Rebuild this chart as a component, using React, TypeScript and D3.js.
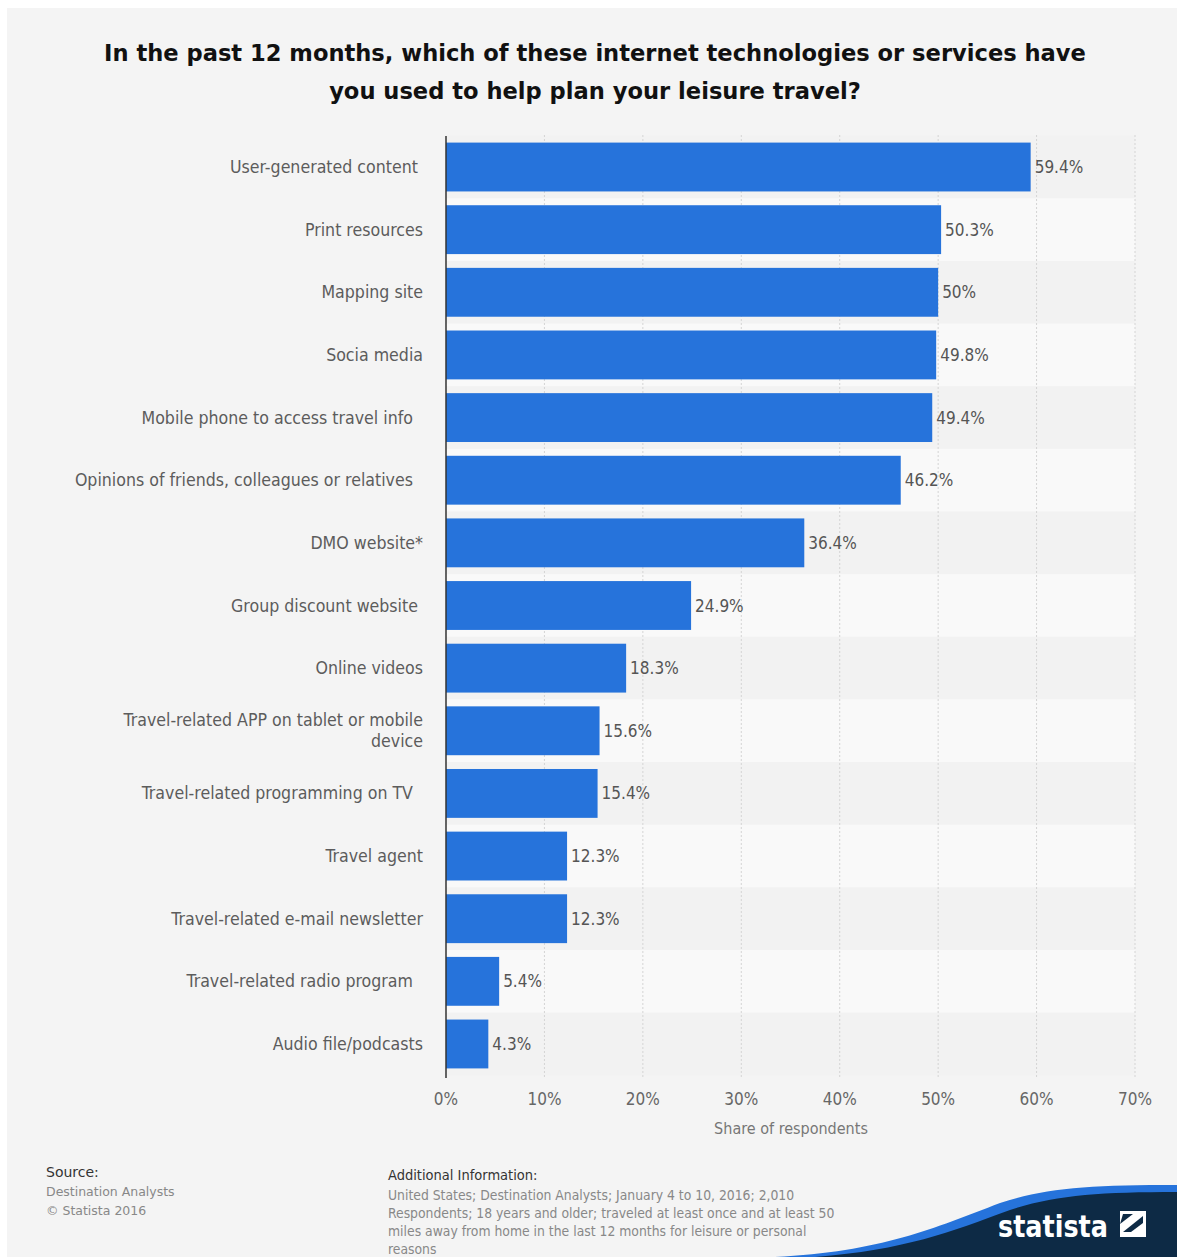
import React from "react";
import * as d3 from "d3";

const categories: string[][] = [
  ["User-generated content "],
  ["Print resources"],
  ["Mapping site"],
  ["Socia media"],
  ["Mobile phone to access travel info  "],
  ["Opinions of friends, colleagues or relatives  "],
  ["DMO website*"],
  ["Group discount website "],
  ["Online videos"],
  ["Travel-related APP on tablet or mobile", "device"],
  ["Travel-related programming on TV  "],
  ["Travel agent"],
  ["Travel-related e-mail newsletter"],
  ["Travel-related radio program  "],
  ["Audio file/podcasts"],
];
const values: number[] = [59.4, 50.3, 50, 49.8, 49.4, 46.2, 36.4, 24.9, 18.3, 15.6, 15.4, 12.3, 12.3, 5.4, 4.3];
const valueLabels: string[] = ["59.4%", "50.3%", "50%", "49.8%", "49.4%", "46.2%", "36.4%", "24.9%", "18.3%", "15.6%", "15.4%", "12.3%", "12.3%", "5.4%", "4.3%"];
const xTicks: number[] = [0, 10, 20, 30, 40, 50, 60, 70];

const titleLines = [
  "In the past 12 months, which of these internet technologies or services have",
  "you used to help plan your leisure travel?",
];
const additionalInfo = [
  "United States; Destination Analysts; January 4 to 10, 2016; 2,010",
  "Respondents; 18 years and older; traveled at least once and at least 50",
  "miles away from home in the last 12 months for leisure or personal",
  "reasons",
];

const W = 1177;
const H = 1257;
const COND = "'DejaVu Sans Condensed', 'Liberation Sans Narrow', 'DejaVu Sans', sans-serif";
const BOLD = "'DejaVu Sans', sans-serif";

export default function App() {
  const x = d3.scaleLinear().domain([0, 70]).range([446, 1135]);
  const y = d3
    .scaleBand<number>()
    .domain(d3.range(categories.length))
    .range([135.7, 1075.3])
    .paddingInner(0.22)
    .paddingOuter(0.11);
  const step = y.step();
  const rowTop = (i: number) => (y(i) as number) - (step - y.bandwidth()) / 2;

  return (
    <svg
      width={W}
      height={H}
      style={{ position: "absolute", left: 0, top: 0, display: "block" }}
    >
      <rect x={0} y={0} width={W} height={H} fill="#ffffff" />
      <rect x={7} y={8} width={W - 7} height={H - 8} fill="#f4f4f4" />

      {titleLines.map((t, i) => (
        <text
          key={i}
          x={595}
          y={61 + i * 38}
          textAnchor="middle"
          fontFamily={BOLD}
          fontWeight="bold"
          fontSize={22.6}
          fill="#111"
        >
          {t}
        </text>
      ))}

      {/* row stripes */}
      {categories.map((_, i) => (
        <rect
          key={i}
          x={x(0)}
          y={rowTop(i)}
          width={x(70) - x(0)}
          height={step}
          fill={i % 2 === 0 ? "#f2f2f2" : "#f9f9f9"}
        />
      ))}

      {/* gridlines */}
      {xTicks.slice(1).map((t) => (
        <line
          key={t}
          x1={x(t)}
          x2={x(t)}
          y1={135}
          y2={1078}
          stroke="#d4d4d4"
          strokeWidth={1}
          strokeDasharray="2,2"
        />
      ))}

      {/* bars */}
      {values.map((v, i) => (
        <rect
          key={i}
          x={x(0)}
          y={y(i) as number}
          width={x(v) - x(0)}
          height={y.bandwidth()}
          fill="#2673db"
        />
      ))}

      {/* value labels */}
      {values.map((v, i) => (
        <text
          key={i}
          x={x(v) + 4}
          y={(y(i) as number) + y.bandwidth() / 2 + 6}
          fontFamily={COND}
          fontSize={17}
          fill="#555"
        >
          {valueLabels[i]}
        </text>
      ))}

      {/* category labels */}
      {categories.map((lines, i) => {
        const cy = (y(i) as number) + y.bandwidth() / 2;
        const lh = 21;
        const start = cy - ((lines.length - 1) * lh) / 2 + 6;
        return (
          <text
            key={i}
            textAnchor="end"
            fontFamily={COND}
            fontSize={17.6}
            fill="#5c5c5c"
            style={{ whiteSpace: "pre" }}
          >
            {lines.map((l, j) => (
              <tspan key={j} x={423} y={start + j * lh}>
                {l}
              </tspan>
            ))}
          </text>
        );
      })}

      {/* axis line */}
      <line x1={x(0)} x2={x(0)} y1={136} y2={1078} stroke="#333" strokeWidth={1.5} />

      {/* x tick labels */}
      {xTicks.map((t) => (
        <text
          key={t}
          x={x(t)}
          y={1105}
          textAnchor="middle"
          fontFamily={COND}
          fontSize={17}
          fill="#666"
        >
          {t + "%"}
        </text>
      ))}
      <text
        x={791}
        y={1134}
        textAnchor="middle"
        fontFamily={COND}
        fontSize={16}
        fill="#777"
      >
        Share of respondents
      </text>

      {/* footer */}
      <text x={46} y={1177} fontFamily={BOLD} fontSize={14} fill="#333">
        Source:
      </text>
      <text x={46} y={1196} fontFamily={BOLD} fontSize={12.5} fill="#888">
        Destination Analysts
      </text>
      <text x={46} y={1215} fontFamily={BOLD} fontSize={12.5} fill="#888">
        © Statista 2016
      </text>
      <text x={388} y={1180} fontFamily={COND} fontSize={14.5} fill="#333">
        Additional Information:
      </text>
      {additionalInfo.map((l, i) => (
        <text key={i} x={388} y={1200 + i * 18} fontFamily={COND} fontSize={13.8} fill="#888">
          {l}
        </text>
      ))}

      {/* statista logo */}
      <path
        d="M 775 1257 C 880 1252, 935 1228, 1000 1203 C 1045 1188, 1090 1185, 1177 1185 L 1177 1257 Z"
        fill="#2673db"
      />
      <path
        d="M 815 1257 C 905 1250, 950 1232, 1010 1210 C 1055 1195, 1100 1192, 1177 1192 L 1177 1257 Z"
        fill="#0d2a45"
      />
      <text
        x={998}
        y={1237}
        fontFamily={BOLD}
        fontWeight="bold"
        fontSize={30}
        fill="#ffffff"
        textLength={110}
        lengthAdjust="spacingAndGlyphs"
      >
        statista
      </text>
      <g transform="translate(1120,1211)">
        <rect x={0} y={0} width={26} height={26} fill="#ffffff" />
        <path d="M 3 21 L 23 5 L 23 12 L 11 21 Z" fill="#0d2a45" />
        <path d="M 0 13 L 13 3 L 3 3 Z" fill="#0d2a45" />
      </g>
    </svg>
  );
}
